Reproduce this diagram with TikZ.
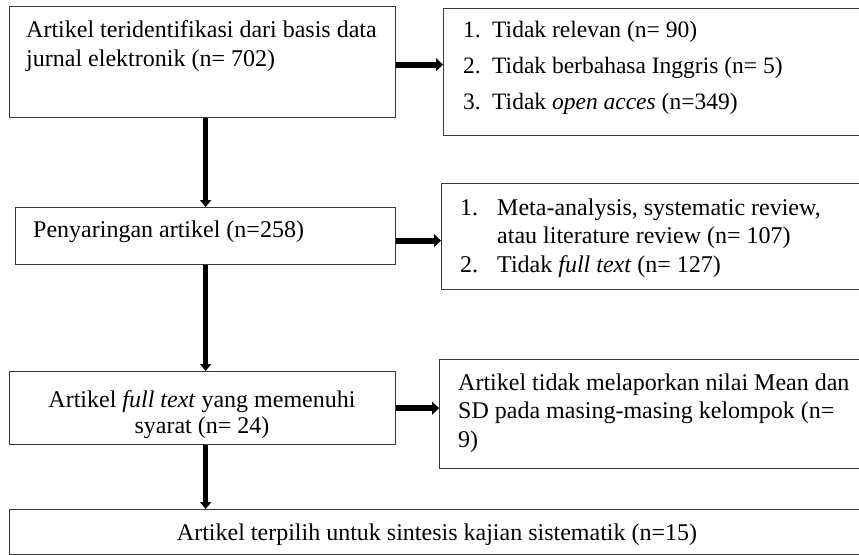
\documentclass[tikz,border=0pt]{standalone}
\usepackage{fontspec}
\setmainfont{Liberation Serif}
\usetikzlibrary{arrows.meta}
\begin{document}
\begin{tikzpicture}[x=1pt,y=-1pt,
  box/.style={draw=black!78, line width=1.3pt, rectangle, inner sep=0pt, anchor=north west},
  arr/.style={line width=4.5pt, -{Triangle[length=7pt,width=11pt]}},
  harr/.style={line width=6pt, -{Triangle[length=7pt,width=13pt]}},
  txt/.style={font=\fontsize{24}{29}\selectfont, inner sep=0pt, anchor=base west},
  ltxt/.style={txt, font=\fontsize{23.5}{29}\selectfont},
  ctxt/.style={txt, anchor=base}
]
\useasboundingbox (0,0) rectangle (859,554);
\clip (0,0) rectangle (859,554);
% boxes
\node[box, minimum width=386, minimum height=111] (A) at (9,6) {};
\node[box, minimum width=380, minimum height=57] (B) at (15,207) {};
\node[box, minimum width=386, minimum height=73] (C) at (9,371) {};
\node[box, minimum width=871, minimum height=44.5] (D) at (9,509) {};
\node[box, minimum width=437, minimum height=127] (R1) at (443,8) {};
\node[box, minimum width=439, minimum height=106] (R2) at (441,183) {};
\node[box, minimum width=441, minimum height=109] (R3) at (439,359) {};
% texts
\node[txt] (a1) at (26,37) {Artikel teridentifikasi dari basis data};
\node[txt] (a2) at (26,66) {jurnal elektronik (n= 702)};
\node[txt] (b1) at (33,237) {Penyaringan artikel (n=258)};
\node[ctxt] (c1) at (202,407) {Artikel \textit{full text} yang memenuhi};
\node[ctxt] (c2) at (202,433) {syarat (n= 24)};
\node[ctxt] (d1) at (437,540) {Artikel terpilih untuk sintesis kajian sistematik (n=15)};
\node[ltxt] (r1n1) at (463,37) {1.};
\node[ltxt] (r1t1) at (492,37) {Tidak relevan (n= 90)};
\node[ltxt] (r1n2) at (463,73) {2.};
\node[ltxt] (r1t2) at (492,73) {Tidak berbahasa Inggris (n= 5)};
\node[ltxt] (r1n3) at (463,109) {3.};
\node[ltxt] (r1t3) at (492,109) {Tidak \textit{open acces} (n=349)};
\node[txt] (r2n1) at (460,215) {1.};
\node[txt] (r2t1) at (497,215) {Meta-analysis, systematic review,};
\node[txt] (r2t2) at (497,243) {atau literature review (n= 107)};
\node[txt] (r2n2) at (460,272) {2.};
\node[txt] (r2t3) at (497,272) {Tidak \textit{full text} (n= 127)};
\node[txt] (r3t1) at (458,390) {Artikel tidak melaporkan nilai Mean dan};
\node[txt] (r3t2) at (458,418) {SD pada masing-masing kelompok (n=};
\node[txt] (r3t3) at (458,447) {9)};
% arrows
\draw[arr] (A.south -| B.north) -- (B.north);
\draw[arr] (B.south) -- (C.north -| B.south);
\draw[arr] (C.south -| B.south) -- (D.north -| B.south);
\draw[harr] ([yshift=-2.5pt]A.east) -- ([yshift=-2.5pt]A.east -| R1.west);
\draw[harr] ([yshift=-4.5pt]B.east) -- ([yshift=-4.5pt]B.east -| R2.west);
\draw[harr] (C.east) -- (C.east -| R3.west);
\end{tikzpicture}
\end{document}
